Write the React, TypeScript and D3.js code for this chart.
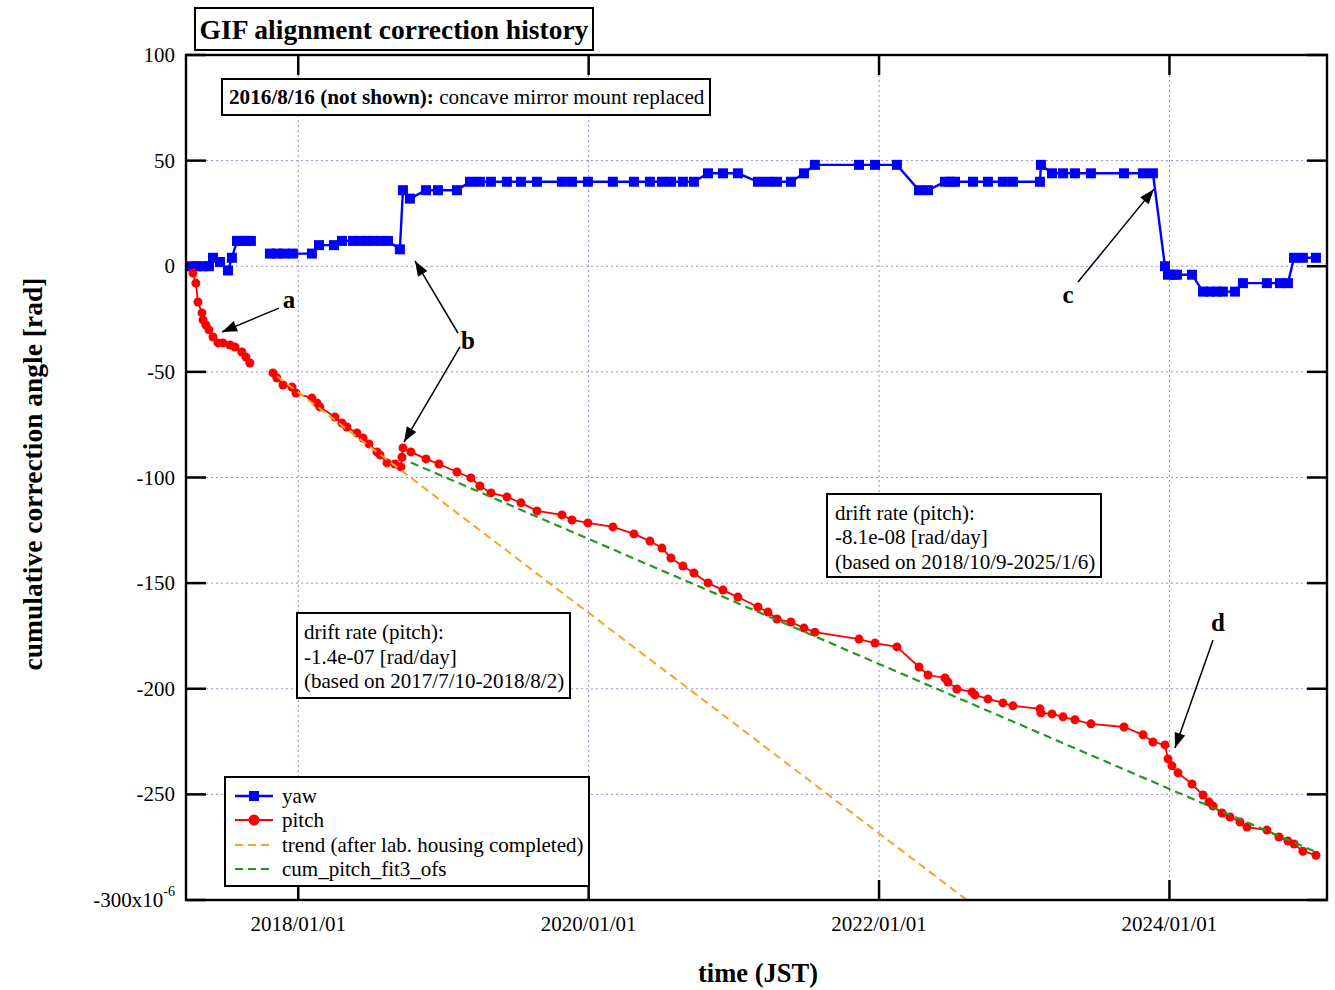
import React from "react";
import * as d3 from "d3";

const W = 1335;
const H = 990;

// time in decimal years, values in microradians (x10^-6 rad)
const yawYears = [
  2017.268, 2017.302, 2017.344, 2017.385, 2017.413, 2017.461, 2017.516, 2017.543, 2017.578, 2017.612, 2017.647, 2017.674,
  2017.74,
  2017.805, 2017.853, 2017.902, 2017.963, 2018.094, 2018.143, 2018.246, 2018.301, 2018.377, 2018.425, 2018.473, 2018.521,
  2018.570, 2018.618, 2018.700, 2018.721, 2018.769, 2018.880, 2018.962, 2019.093, 2019.183, 2019.251, 2019.327, 2019.437,
  2019.534, 2019.644, 2019.816, 2019.885, 2019.995, 2020.167, 2020.312, 2020.422, 2020.505, 2020.567, 2020.649, 2020.725,
  2020.822, 2020.925, 2021.028, 2021.166, 2021.235, 2021.297, 2021.393, 2021.483, 2021.558, 2021.862, 2021.972, 2022.123,
  2022.275, 2022.337, 2022.454, 2022.488, 2022.523, 2022.647, 2022.750, 2022.853, 2022.922, 2023.108, 2023.115, 2023.191,
  2023.267, 2023.349, 2023.459, 2023.687, 2023.818, 2023.886, 2023.969, 2023.990, 2024.031, 2024.052, 2024.155, 2024.231,
  2024.279, 2024.327, 2024.368, 2024.451, 2024.506, 2024.671, 2024.761, 2024.816, 2024.858, 2024.919, 2025.009,
];
const yawValues: (number | null)[] = [
  0, 0, 0, 0, 4, 2, -2, 4, 12, 12, 12, 12,
  null,
  6, 6, 6, 6, 6, 10, 10, 12, 12, 12, 12, 12,
  12, 12, 8, 36, 32, 36, 36, 36, 40, 40, 40, 40,
  40, 40, 40, 40, 40, 40, 40, 40, 40, 40, 40, 40,
  44, 44, 44, 40, 40, 40, 40, 44, 48, 48, 48, 48,
  36, 36, 40, 40, 40, 40, 40, 40, 40, 40, 48, 44,
  44, 44, 44, 44, 44, 44, 0, -4, -4, -4, -4, -12,
  -12, -12, -12, -12, -8, -8, -8, -8, 4, 4, 4,
];

const pitchYears = [
  2017.275, 2017.295, 2017.309, 2017.337, 2017.344, 2017.364, 2017.385, 2017.413, 2017.447, 2017.481, 2017.530, 2017.564,
  2017.612, 2017.640, 2017.667,
  2017.75,
  2017.826, 2017.853, 2017.895, 2017.957, 2017.984, 2018.094, 2018.129, 2018.149, 2018.253, 2018.301, 2018.335, 2018.404,
  2018.446, 2018.487, 2018.542, 2018.563, 2018.611, 2018.666, 2018.707, 2018.714, 2018.721, 2018.776, 2018.880, 2018.969,
  2019.093, 2019.189, 2019.251, 2019.327, 2019.437, 2019.534, 2019.644, 2019.816, 2019.885, 2019.995, 2020.167, 2020.312,
  2020.422, 2020.505, 2020.567, 2020.649, 2020.725, 2020.822, 2020.925, 2021.028, 2021.166, 2021.235, 2021.297, 2021.393,
  2021.483, 2021.558, 2021.862, 2021.972, 2022.123, 2022.275, 2022.337, 2022.454, 2022.474, 2022.536, 2022.640, 2022.660,
  2022.750, 2022.853, 2022.922, 2023.108, 2023.115, 2023.191, 2023.267, 2023.349, 2023.459, 2023.687, 2023.818, 2023.886,
  2023.969, 2023.990, 2024.017, 2024.059, 2024.155, 2024.231, 2024.272, 2024.300, 2024.362, 2024.417, 2024.486, 2024.534,
  2024.671, 2024.754, 2024.816, 2024.858, 2024.919, 2025.009,
];
const pitchValues: (number | null)[] = [
  -3.2, -8.0, -16.9, -22.1, -25.4, -27.8, -30.1, -33.5, -36.3, -36.3, -37.3, -38.2,
  -40.6, -43.0, -45.8,
  null,
  -50.5, -52.9, -56.2, -57.2, -60.0, -62.4, -64.7, -66.6, -71.4, -74.2, -76.1, -78.9,
  -81.3, -84.1, -87.9, -89.3, -93.1, -93.6, -95.0, -90.4, -86.0, -87.9, -91.2, -93.6,
  -97.4, -100.2, -104.0, -107.3, -109.2, -112.0, -115.8, -117.7, -120.1, -121.5, -123.4, -126.7,
  -130.1, -133.4, -138.1, -141.9, -145.2, -149.9, -153.3, -156.6, -161.3, -163.7, -167.0, -168.4,
  -171.3, -173.2, -176.5, -178.4, -180.2, -189.7, -193.5, -194.9, -196.8, -200.1, -201.5, -202.9,
  -204.8, -206.7, -208.1, -209.5, -211.4, -211.9, -213.3, -214.7, -216.6, -218.1, -221.8, -225.2,
  -226.6, -233.2, -236.5, -239.8, -245.1, -250.3, -253.6, -255.5, -258.8, -260.7, -263.1, -265.5,
  -266.9, -270.2, -272.1, -273.5, -276.9, -278.8,
];

const trendYears = [2017.853, 2022.7];
const trendValues = [-52.0, -305.0];
const fitYears = [2018.776, 2025.01];
const fitValues = [-92.9, -277.3];

const xTickYears = [2018, 2020, 2022, 2024];
const xTickLabels = ["2018/01/01", "2020/01/01", "2022/01/01", "2024/01/01"];
const yTicks = [100, 50, 0, -50, -100, -150, -200, -250, -300];
const yTickLabels = ["100", "50", "0", "-50", "-100", "-150", "-200", "-250", "-300x10"];

// annotation arrows: [fromYear, fromValue, toYear, toValue]
const arrows = [
  [2017.867, -19.8, 2017.475, -31.1],
  [2019.1, -31.6, 2018.804, 2.5],
  [2019.114, -38.2, 2018.728, -83.2],
  [2023.37, -7.5, 2023.893, 36.5],
  [2024.3, -176.9, 2024.038, -228.0],
];
const arrowLabels = ["a", "b", "c", "d"];
const arrowLabelYears = [2017.936, 2019.169, 2023.301, 2024.334];
const arrowLabelValues = [-16.0, -35.6, -13.6, -168.8];

const SERIF = '"Liberation Serif", "Times New Roman", Times, serif';
const YAW = "#0000ff";
const PITCH = "#ff0000";
const ORANGE = "#f5a623";
const GREEN = "#1f9a1f";
const GRID = "#8f8fd8";

type P = { t: number; v: number | null };

export default function App() {
  const left = 186, right = 1327, top = 55, bottom = 900;
  const x = d3.scaleLinear().domain([2017.227, 2025.085]).range([left, right]);
  const y = d3.scaleLinear().domain([-300, 100]).range([bottom, top]);

  const line = d3
    .line<P>()
    .defined((d) => d.v !== null)
    .x((d) => x(d.t))
    .y((d) => y(d.v as number));

  const yaw: P[] = yawYears.map((t, i) => ({ t, v: yawValues[i] }));
  const pitch: P[] = pitchYears.map((t, i) => ({ t, v: pitchValues[i] }));
  const trend: P[] = trendYears.map((t, i) => ({ t, v: trendValues[i] }));
  const fit: P[] = fitYears.map((t, i) => ({ t, v: fitValues[i] }));

  const tickLen = 20;

  const arrowHead = (x1: number, y1: number, x2: number, y2: number) => {
    const dx = x2 - x1, dy = y2 - y1;
    const L = Math.hypot(dx, dy);
    const ux = dx / L, uy = dy / L;
    const hl = 15, hw = 5.5;
    const bx = x2 - ux * hl, by = y2 - uy * hl;
    return `M${x2},${y2}L${bx - uy * hw},${by + ux * hw}L${bx + uy * hw},${by - ux * hw}Z`;
  };

  return (
    <svg
      width={W}
      height={H}
      style={{ position: "absolute", left: 0, top: 0, background: "#fff" }}
      fontFamily={SERIF}
    >
      <defs>
        <clipPath id="plotclip">
          <rect x={left} y={top} width={right - left} height={bottom - top} />
        </clipPath>
      </defs>
      <rect x={0} y={0} width={W} height={H} fill="#fff" />

      {/* grid */}
      <g stroke={GRID} strokeWidth={1} strokeDasharray="2,3">
        {yTicks.slice(1, -1).map((v) => (
          <line key={"gy" + v} x1={left} x2={right} y1={y(v)} y2={y(v)} />
        ))}
        {xTickYears.map((t) => (
          <line key={"gx" + t} x1={x(t)} x2={x(t)} y1={top} y2={bottom} />
        ))}
      </g>

      {/* ticks */}
      <g stroke="#000" strokeWidth={2.5}>
        {yTicks.map((v) => (
          <g key={"ty" + v}>
            <line x1={left} x2={left + tickLen} y1={y(v)} y2={y(v)} />
            <line x1={right} x2={right - tickLen} y1={y(v)} y2={y(v)} />
          </g>
        ))}
        {xTickYears.map((t) => (
          <g key={"tx" + t}>
            <line x1={x(t)} x2={x(t)} y1={bottom} y2={bottom - tickLen} />
            <line x1={x(t)} x2={x(t)} y1={top} y2={top + tickLen} />
          </g>
        ))}
      </g>

      {/* data */}
      <g clipPath="url(#plotclip)">
        <path d={line(yaw) || ""} fill="none" stroke={YAW} strokeWidth={2.4} />
        {yaw
          .filter((d) => d.v !== null)
          .map((d, i) => (
            <rect key={"ys" + i} x={x(d.t) - 5} y={y(d.v as number) - 5} width={10} height={10} fill={YAW} />
          ))}
        <path d={line(pitch) || ""} fill="none" stroke={PITCH} strokeWidth={1.8} />
        {pitch
          .filter((d) => d.v !== null)
          .map((d, i) => (
            <circle key={"pc" + i} cx={x(d.t)} cy={y(d.v as number)} r={4.5} fill={PITCH} />
          ))}
        <path d={line(trend) || ""} fill="none" stroke={ORANGE} strokeWidth={2} strokeDasharray="8,5" />
        <path d={line(fit) || ""} fill="none" stroke={GREEN} strokeWidth={2.2} strokeDasharray="8,5" />
      </g>

      {/* frame */}
      <rect x={left} y={top} width={right - left} height={bottom - top} fill="none" stroke="#000" strokeWidth={2.4} />

      {/* y tick labels */}
      <g fontSize={21} textAnchor="end" fill="#000">
        {yTicks.map((v, i) => (
          <text key={"yl" + v} x={175} y={y(v) + 7}>
            {yTickLabels[i]}
            {v === -300 ? (
              <tspan fontSize={14} dy={-11}>
                -6
              </tspan>
            ) : null}
          </text>
        ))}
      </g>
      {/* x tick labels */}
      <g fontSize={21} textAnchor="middle" fill="#000">
        {xTickYears.map((t, i) => (
          <text key={"xl" + t} x={x(t)} y={931}>
            {xTickLabels[i]}
          </text>
        ))}
      </g>

      {/* axis titles */}
      <text x={758} y={982} fontSize={26.5} fontWeight="bold" textAnchor="middle">
        time (JST)
      </text>
      <text
        transform={`translate(42,474) rotate(-90)`}
        fontSize={27.5}
        fontWeight="bold"
        textAnchor="middle"
      >
        cumulative correction angle [rad]
      </text>

      {/* title */}
      <rect x={195} y={8} width={398} height={42} fill="#fff" stroke="#000" strokeWidth={2} />
      <text x={394} y={39} fontSize={27.5} fontWeight="bold" textAnchor="middle">
        GIF alignment correction history
      </text>

      {/* note box */}
      <rect x={222} y={79} width={488} height={36} fill="#fff" stroke="#000" strokeWidth={2} />
      <text x={229} y={104} fontSize={21.2}>
        <tspan fontWeight="bold">2016/8/16 (not shown):</tspan>
        <tspan> concave mirror mount replaced</tspan>
      </text>

      {/* drift box 1 */}
      <rect x={297} y={613} width={273} height={85} fill="#fff" stroke="#000" strokeWidth={2} />
      <g fontSize={21}>
        <text x={304} y={639}>drift rate (pitch):</text>
        <text x={304} y={664}>-1.4e-07 [rad/day]</text>
        <text x={304} y={688}>(based on 2017/7/10-2018/8/2)</text>
      </g>

      {/* drift box 2 */}
      <rect x={827} y={494} width={274} height={83} fill="#fff" stroke="#000" strokeWidth={2} />
      <g fontSize={21}>
        <text x={835} y={520}>drift rate (pitch):</text>
        <text x={835} y={544}>-8.1e-08 [rad/day]</text>
        <text x={835} y={569}>(based on 2018/10/9-2025/1/6)</text>
      </g>

      {/* arrows */}
      <g>
        {arrows.map((a, i) => {
          const x1 = x(a[0]), y1 = y(a[1]), x2 = x(a[2]), y2 = y(a[3]);
          return (
            <g key={"ar" + i}>
              <line x1={x1} y1={y1} x2={x2} y2={y2} stroke="#000" strokeWidth={1.5} />
              <path d={arrowHead(x1, y1, x2, y2)} fill="#000" />
            </g>
          );
        })}
        {arrowLabels.map((s, i) => (
          <text
            key={"al" + s}
            x={x(arrowLabelYears[i])}
            y={y(arrowLabelValues[i]) + 8}
            fontSize={25}
            fontWeight="bold"
            textAnchor="middle"
          >
            {s}
          </text>
        ))}
      </g>

      {/* legend */}
      <rect x={225} y={777} width={364} height={109} fill="#fff" stroke="#000" strokeWidth={2} />
      <g fontSize={21}>
        <line x1={235} x2={273} y1={796} y2={796} stroke={YAW} strokeWidth={2.4} />
        <rect x={249} y={791} width={10} height={10} fill={YAW} />
        <text x={282} y={803}>yaw</text>
        <line x1={235} x2={273} y1={820} y2={820} stroke={PITCH} strokeWidth={1.8} />
        <circle cx={254} cy={820} r={5.5} fill={PITCH} />
        <text x={282} y={827}>pitch</text>
        <line x1={235} x2={273} y1={845} y2={845} stroke={ORANGE} strokeWidth={2} strokeDasharray="8,5" />
        <text x={282} y={852}>trend (after lab. housing completed)</text>
        <line x1={235} x2={273} y1={869} y2={869} stroke={GREEN} strokeWidth={2.2} strokeDasharray="8,5" />
        <text x={282} y={876}>cum_pitch_fit3_ofs</text>
      </g>
    </svg>
  );
}
